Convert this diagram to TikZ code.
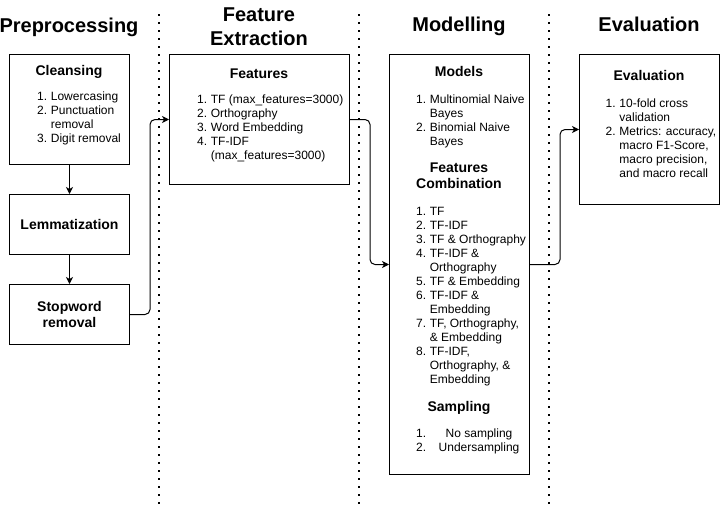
\documentclass[tikz,border=0pt]{standalone}
\usepackage{fontspec}
\setmainfont{Liberation Sans}
\usetikzlibrary{arrows.meta,positioning}
\tikzset{
  stage/.style={inner sep=0pt,anchor=base,font=\fontsize{20}{24}\selectfont\bfseries},
  block/.style={draw,line width=1pt,anchor=north west,inner sep=0pt,align=center,
    font=\fontsize{14}{16}\selectfont\bfseries},
  head/.style={inner sep=0pt,anchor=base,font=\fontsize{14}{16}\selectfont\bfseries},
  items/.style={inner sep=0pt,anchor=base west,font=\fontsize{12}{14}\selectfont},
  sep/.style={line width=1.6pt,dash pattern=on 1.6pt off 6.4pt},
  link/.style={-{Stealth[length=7pt,width=7pt,inset=2pt]},line width=1pt,rounded corners=5pt}
}
\newcommand{\numlist}[1]{\begin{tabular}[t]{@{}r@{\hspace{3.7pt}}l@{}}#1\end{tabular}}
\newcommand{\stacked}[1]{\begin{tabular}[t]{@{}c@{}}#1\end{tabular}}

\begin{document}
\begin{tikzpicture}[x=1pt,y=-1pt]
\useasboundingbox (0,0) rectangle (720,506);
% stage titles
\node[stage] (tprep) at (69,32.5) {Preprocessing};
\node[stage] (tfeat) at (259,21) {\stacked{Feature\\Extraction}};
\node[stage] (tmod) at (459,31) {Modelling};
\node[stage] (teval) at (649,31) {Evaluation};
% separators
\draw[sep] (159,14) -- (159,506);
\draw[sep] (359,14) -- (359,506);
\draw[sep] (549,14) -- (549,506);
% preprocessing
\node[block,minimum width=120pt,minimum height=110pt] (clean) at (9,54) {};
\node[head] (cleanhead) at (69,75) {Cleansing};
\node[items] (cleanlist) at (37,100.5) {\numlist{1.&Lowercasing\\2.&Punctuation\\&removal\\3.&Digit removal}};
\node[block,minimum width=120pt,minimum height=60pt] (lemma) at (9,194) {Lemmatization};
\node[block,minimum width=120pt,minimum height=60pt] (stop) at (9,284) {Stopword\\removal};
% feature extraction
\node[block,minimum width=180pt,minimum height=130pt] (feat) at (169,54) {};
\node[head] (feathead) at (259,78.3) {Features};
\node[items] (featlist) at (197,103.6) {\numlist{1.&TF (max\_features=3000)\\2.&Orthography\\3.&Word Embedding\\4.&TF-IDF\\&(max\_features=3000)}};
% modelling
\node[block,minimum width=140pt,minimum height=420pt] (mod) at (389,54) {};
\node[head] (modhead) at (459,76.7) {Models};
\node[items] (modlist) at (416,103) {\numlist{1.&Multinomial Naive\\&Bayes\\2.&Binomial Naive\\&Bayes}};
\node[head] (combhead) at (459,172) {\stacked{Features\\Combination}};
\node[items] (comblist) at (416,215.3) {\numlist{1.&TF\\2.&TF-IDF\\3.&TF \& Orthography\\4.&TF-IDF \&\\&Orthography\\5.&TF \& Embedding\\6.&TF-IDF \&\\&Embedding\\7.&TF, Orthography,\\&\& Embedding\\8.&TF-IDF,\\&Orthography, \&\\&Embedding}};
\node[head] (samphead) at (459,411) {Sampling};
\node[items] (samplist) at (416,437) {\begin{tabular}[t]{@{}l@{\hspace{12.5pt}}c@{}}1.&No sampling\\2.&Undersampling\end{tabular}};
% evaluation
\node[block,minimum width=140pt,minimum height=150pt] (eval) at (579,54) {};
\node[head] (evalhead) at (649,80.7) {Evaluation};
\node[items] (evallist) at (605.5,107) {\numlist{1.&10-fold cross\\&validation\\2.&Metrics: accuracy,\\&macro F1-Score,\\&macro precision,\\&and macro recall}};
% flow
\draw[link] (clean.south) -- (lemma.north);
\draw[link] (lemma.south) -- (stop.north);
\draw[link] (stop.east) -- ++(20pt,0) |- (feat.west);
\draw[link] (feat.east) -- ++(20pt,0) |- (mod.west);
\draw[link] (mod.east) -- ++(30pt,0) |- (eval.west);
\end{tikzpicture}
\end{document}
